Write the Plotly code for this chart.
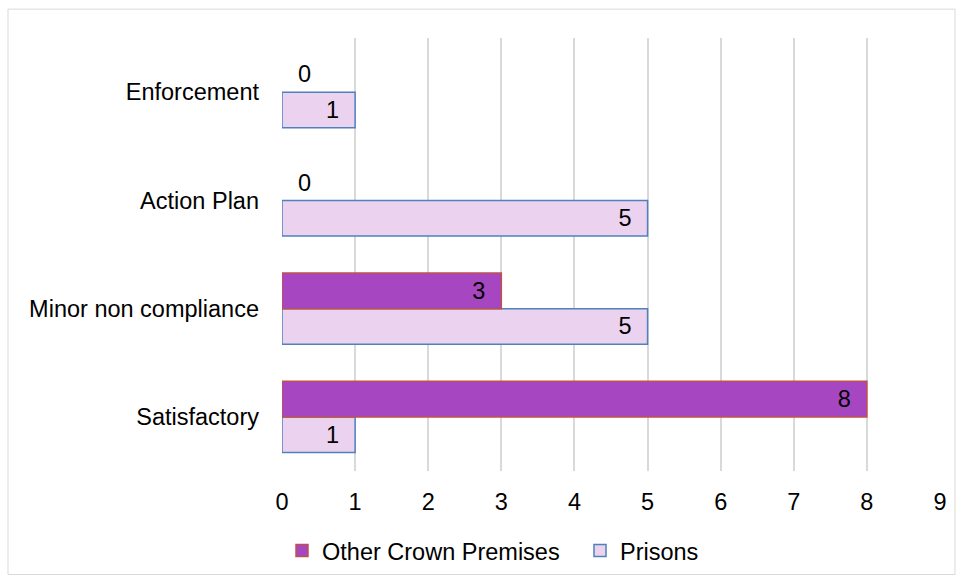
import plotly.graph_objects as go

categories = ["Satisfactory", "Minor non compliance", "Action Plan", "Enforcement"]
prisons = [1, 5, 5, 1]
other_crown = [8, 3, 0, 0]
x_ticks = [0, 1, 2, 3, 4, 5, 6, 7, 8, 9]

FONT = "Liberation Sans, Arial, sans-serif"
FS = 23.5
NB = "\u00a0"

def templates(vals):
    return [(NB * 2 + "%{x}") if v == 0 else ("%{x}" + NB * 2) for v in vals]

def positions(vals):
    return ["outside" if v == 0 else "inside" for v in vals]

def edge_widths(vals):
    return [0 if v == 0 else 1.5 for v in vals]

fig = go.Figure()
fig.add_trace(go.Bar(
    y=categories, x=prisons, orientation="h", name="Prisons",
    marker=dict(color="#EBD3F0", line=dict(color="#4F81BD", width=edge_widths(prisons))),
    texttemplate=templates(prisons), textposition=positions(prisons),
    insidetextanchor="end", constraintext="none", cliponaxis=False,
    textfont=dict(family=FONT, size=FS, color="#000000"),
    hoverinfo="skip",
))
fig.add_trace(go.Bar(
    y=categories, x=other_crown, orientation="h", name="Other Crown Premises",
    marker=dict(color="#A646C0", line=dict(color="#C0504D", width=edge_widths(other_crown))),
    texttemplate=templates(other_crown), textposition=positions(other_crown),
    insidetextanchor="end", constraintext="none", cliponaxis=False,
    textfont=dict(family=FONT, size=FS, color="#000000"),
    hoverinfo="skip",
))

W, H = 963, 585
L, R, T, B = 282, 23, 38, 112
pw, ph = W - L - R, H - T - B

def px(xp):
    return (xp - L) / pw

def py(yp):
    return (H - B - yp) / ph

fig.update_layout(
    width=W, height=H,
    margin=dict(l=L, r=R, t=T, b=B, pad=0),
    paper_bgcolor="white", plot_bgcolor="white",
    barmode="group", bargap=0.34, bargroupgap=0,
    font=dict(family=FONT, size=FS, color="#000000"),
    xaxis=dict(
        range=[0, 9], tickvals=x_ticks, ticktext=[str(v) for v in x_ticks],
        showgrid=True, gridcolor="#D9D9D9", gridwidth=1.5,
        zeroline=False, showline=False, ticks="", ticklabelstandoff=14,
        tickfont=dict(family=FONT, size=FS, color="#000000"),
        fixedrange=True,
    ),
    yaxis=dict(
        categoryorder="array", categoryarray=categories,
        showgrid=False, zeroline=False, showline=False, ticks="",
        ticklabelstandoff=22,
        tickfont=dict(family=FONT, size=FS, color="#000000"),
        fixedrange=True,
    ),
    showlegend=True,
    legend=dict(
        orientation="h", traceorder="reversed",
        x=px(282), xanchor="left", y=py(553), yanchor="middle",
        font=dict(family=FONT, size=FS, color="#000000"),
        itemwidth=30, entrywidth=253, entrywidthmode="pixels",
        bgcolor="rgba(0,0,0,0)",
    ),
    shapes=[dict(
        type="rect", xref="paper", yref="paper",
        x0=px(8), x1=px(955), y0=py(577), y1=py(9),
        line=dict(color="#D9D9D9", width=1), fillcolor="rgba(0,0,0,0)",
        layer="below",
    )],
)

fig.write_html(
    "out.html",
    config={"displayModeBar": False},
    post_script="document.body.style.margin='0';document.body.style.padding='0';",
)
